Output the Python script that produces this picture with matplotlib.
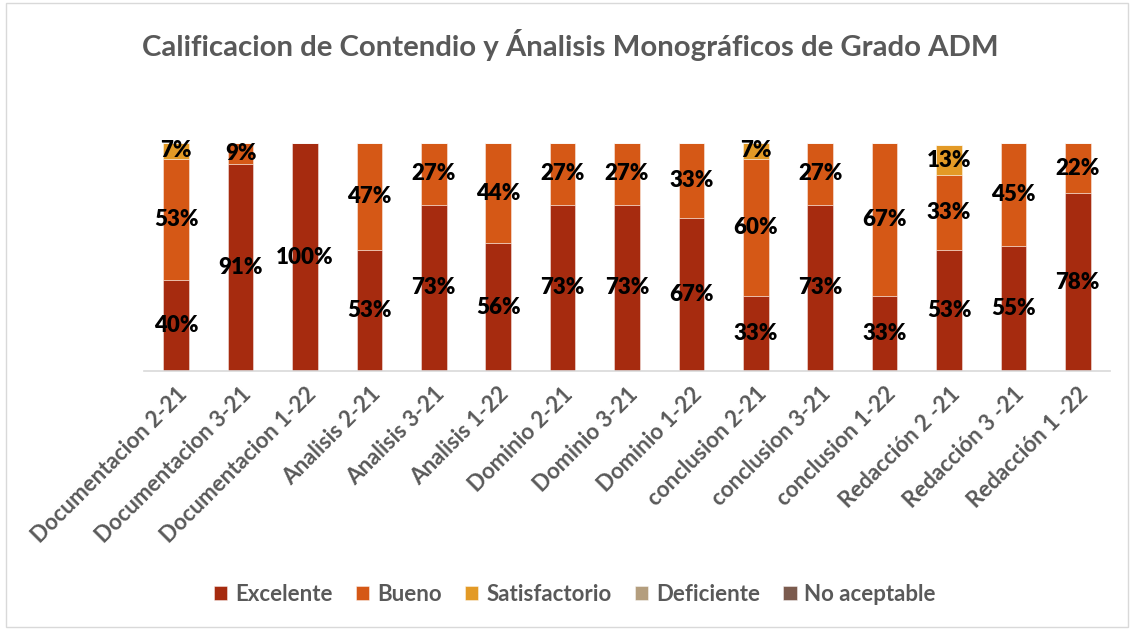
import matplotlib
matplotlib.use("Agg")
import matplotlib.pyplot as plt
from matplotlib.patches import Rectangle
import numpy as np

plt.rcParams['font.family'] = ['Lato', 'DejaVu Sans']

categories = ["Documentacion 2-21", "Documentacion 3-21", "Documentacion 1-22",
              "Analisis 2-21", "Analisis 3-21", "Analisis 1-22",
              "Dominio 2-21", "Dominio 3-21", "Dominio 1-22",
              "conclusion 2-21", "conclusion 3-21", "conclusion 1-22",
              "Redacción 2 -21", "Redacción 3 -21", "Redacción 1 -22"]
excelente = [40, 91, 100, 53, 73, 56, 73, 73, 67, 33, 73, 33, 53, 55, 78]
bueno = [53, 9, 0, 47, 27, 44, 27, 27, 33, 60, 27, 67, 33, 45, 22]
satisfactorio = [7, 0, 0, 0, 0, 0, 0, 0, 0, 7, 0, 0, 13, 0, 0]
deficiente = [0] * 15
no_aceptable = [0] * 15

series = [("Excelente", excelente, "#A62B0F"),
          ("Bueno", bueno, "#D55816"),
          ("Satisfactorio", satisfactorio, "#E39A26"),
          ("Deficiente", deficiente, "#B49E7E"),
          ("No aceptable", no_aceptable, "#7B5B4E")]

fig = plt.figure(figsize=(11.34, 6.30), dpi=100)
fig.patches.append(Rectangle((0.005, 0.005), 0.99, 0.99, transform=fig.transFigure,
                             fill=False, edgecolor="#D9D9D9", linewidth=1))
ax = fig.add_axes([144/1134, 1-371/630, (1110-144)/1134, (371-143)/630])

x = np.arange(len(categories))
bottom = np.zeros(len(categories))
for name, vals, col in series:
    v = np.array(vals, dtype=float)
    ax.bar(x, v, 0.4, bottom=bottom, color=col, label=name,
           edgecolor=(1, 1, 1, 0.5), linewidth=0.6)
    for xi, b, h in zip(x, bottom, v):
        if h > 0:
            ax.text(xi, b + h/2, f"{int(h)}%", ha="center", va="center",
                    fontsize=16, fontweight="heavy", color="black")
    bottom += v

ax.set_xlim(-0.5, len(categories) - 0.5)
ax.set_ylim(0, 100)
ax.set_yticks([])
for s in ["top", "right", "left"]:
    ax.spines[s].set_visible(False)
ax.spines["bottom"].set_color("#D9D9D9")
ax.spines["bottom"].set_linewidth(1.2)
ax.set_xticks(x)
ax.set_xticklabels(categories, rotation=45, ha="right", rotation_mode="anchor",
                   fontsize=16, fontweight="bold", color="#595959")
ax.tick_params(axis="x", length=0, pad=9)

fig.text(0.503, 0.928, "Calificacion de Contendio y Ánalisis Monográficos de Grado ADM",
         ha="center", va="center", fontsize=21.2, fontweight="bold", color="#595959")

leg = fig.legend(loc="center", bbox_to_anchor=(0.507, 0.056), ncol=5, frameon=False,
                 fontsize=16, handlelength=0.6, handleheight=0.6, handletextpad=0.35,
                 columnspacing=1.05)
for t in leg.get_texts():
    t.set_color("#595959")
    t.set_fontweight("bold")

fig.savefig("out.png", dpi=100)
